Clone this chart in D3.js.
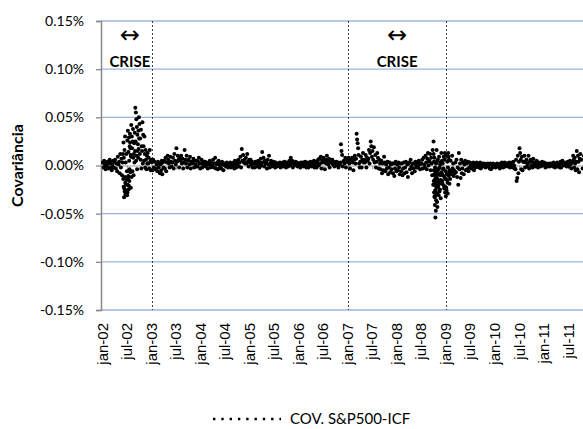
<!DOCTYPE html>
<html>
<head>
<meta charset="utf-8">
<style type="text/css">
    body { margin: 0; background: #fff; }
    .ytick text { font-family: Lato, "Open Sans", sans-serif; font-size: 14px; fill: #000; }
    .xlabel { font-family: "Liberation Sans", Arial, sans-serif; font-size: 15px; fill: #000; }
    .title { font-family: Lato, "Open Sans", sans-serif; font-weight: bold; fill: #000; }
</style>
</head>
<body>
<div id="chart"></div>
<script src="https://cdn.jsdelivr.net/npm/d3@7/dist/d3.min.js"></script>
<script>
// daily covariance S&P500 x ICF, in units of 0.01% (6.0 = 0.06%)
// one inner array per month, values in date order
var cov2002 = [
    [0.3,-0.2,0.5,0.1,-0.4,0.2],
    [-0.1,0.4,-0.3,0.2,0.6,-0.2],
    [0.3,-0.5,0.1,0.5,-0.2,0.4],
    [0.6,-0.3,0.2,-0.6,0.9,0.1],
    [0.4,-0.8,1.2,-0.2,0.7,-1.0,0.3],
    [1.2,-1.4,2.4,-2.2,0.8,-3.3,-2.4,1.6,-2.7,-1.2,3.0,-1.8,-3.0,0.3,-2.9,-2.0,1.2,-1.5,-2.6,-0.6],
    [-3.1,2.6,-2.8,-2.0,3.6,-1.3,-1.1,1.4,-2.5,-2.1,2.9,0.5,-1.6,-0.4,2.0,3.3,2.4,-0.7,1.8,1.1,-2.3,0.9],
    [4.2,-1.2,3.0,1.8,-0.6,2.5,3.8,0.8,-1.0,1.2,2.3,0.3,3.4,1.5],
    [6.0,2.5,5.5,0.5,4.8,1.0,4.0,-0.4,3.2,1.5,2.2,0.8,3.6,1.7,5.0,2.8],
    [4.3,1.2,2.8,0.6,3.7,-0.3,2.0,1.5,4.5,0.2,3.2],
    [2.0,0.5,3.0,1.2,-0.2,1.6,0.6,-0.4,1.0,0.2],
    [1.3,0.2,0.8,-0.3,1.6,0.4,-0.5,0.6]
];
var cov2003 = [
    [0.3,-0.5,0.6,-0.2,0.4,-0.3],
    [-0.4,0.1,-0.6,0.4,-0.2,0.2],
    [-0.8,0.1,-0.5,0.5,-0.9,0.3,-0.2],
    [0.5,-0.3,0.8,-0.6,0.3,1.0],
    [0.6,0.2,-0.2,0.9,0.4,-0.1],
    [0.3,0.8,-0.3,1.2,0.5,0.1],
    [1.8,0.4,1.0,0.6,-0.2,0.8],
    [0.5,1.0,0.2,0.7,-0.3,0.3],
    [1.6,0.6,0.2,1.0,-0.2,0.5],
    [0.6,0.1,0.9,-0.3,0.4,0.2],
    [0.3,0.7,-0.2,0.5,0.1,-0.1],
    [0.5,-0.1,0.4,0.8,0.2,-0.3]
];
var cov2004 = [
    [0.2,0.6,-0.2,0.3,0.1,0.4],
    [0.4,-0.1,0.3,0.1,-0.3,0.2],
    [0.1,0.5,-0.2,0.3,0.0,-0.1],
    [0.6,-0.2,0.2,0.8,-0.3,0.1],
    [0.3,-0.4,0.5,0.1,-0.2,0.2],
    [-0.3,0.4,0.1,-0.5,0.2,0.0],
    [0.2,-0.1,0.3,0.0,-0.2,0.1],
    [0.1,0.3,-0.2,0.2,0.0,-0.1],
    [0.3,-0.3,0.5,0.1,-0.2,0.4],
    [0.2,0.6,-0.1,0.3,0.9,-0.2],
    [1.7,0.5,1.1,0.3,0.6,0.2],
    [0.8,0.2,1.2,0.4,-0.1,0.6]
];
var cov2005 = [
    [0.3,0.6,0.1,0.4,-0.2,0.2],
    [0.2,-0.2,0.4,0.1,-0.1,0.3],
    [0.5,0.1,-0.2,0.3,0.7,0.0],
    [1.4,0.3,0.8,-0.1,0.5,0.2],
    [0.4,-0.3,0.6,0.1,1.0,-0.2],
    [0.2,0.5,-0.1,0.3,0.0,0.4],
    [0.1,-0.2,0.3,0.2,-0.1,0.1],
    [0.2,0.0,0.3,-0.2,0.1,0.2],
    [0.3,-0.1,0.2,0.4,0.0,-0.2],
    [0.1,0.3,-0.1,0.2,0.5,0.0],
    [0.8,0.2,0.5,-0.2,0.3,0.1],
    [0.2,0.4,0.0,0.3,-0.1,0.2]
];
var cov2006 = [
    [0.1,0.2,-0.2,0.3,0.0,0.1],
    [0.3,-0.1,0.2,0.4,0.0,-0.2],
    [0.1,0.3,-0.2,0.2,0.0,0.4],
    [0.2,-0.1,0.3,0.1,0.5,-0.2],
    [0.4,0.1,-0.2,0.3,0.6,0.0],
    [0.7,0.2,0.9,-0.3,0.5,0.3],
    [0.8,0.4,-0.4,0.6,0.2,1.0],
    [0.5,0.1,0.7,-0.2,0.3,0.6],
    [0.3,0.6,0.1,0.4,-0.1,0.2],
    [0.2,0.4,0.0,0.3,-0.2,0.1],
    [0.1,0.3,2.2,1.5,1.1,-0.1,0.4],
    [0.5,0.2,0.8,-0.2,0.4,0.6]
];
var cov2007 = [
    [0.5,0.8,0.2,-0.3,0.6,0.4],
    [0.8,0.3,-0.5,0.6,1.0,0.2],
    [0.7,3.3,2.7,2.3,1.8,1.1,0.2,-0.2],
    [0.4,0.9,-0.2,0.6,1.3,0.3],
    [0.6,0.3,1.1,-0.2,0.8,0.5],
    [0.7,1.6,0.2,1.3,2.5,2.0,0.9],
    [1.5,0.6,1.9,0.3,1.1,-0.2],
    [0.4,1.3,0.8,-0.3,0.6,0.2],
    [-0.4,0.5,-0.8,0.2,-0.5,0.9],
    [0.3,-0.6,0.1,-0.3,0.4,-0.9],
    [-0.2,0.3,-0.7,0.1,-0.4,0.2],
    [-0.8,0.2,-1.1,-0.3,0.4,-0.6]
];
var cov2008 = [
    [0.1,-0.5,0.3,-0.2,-0.9,0.2],
    [-0.6,0.2,-1.0,-0.3,0.3,-0.8],
    [-0.2,0.4,-0.7,0.1,-1.2,0.2],
    [0.3,-0.4,0.6,-0.1,-0.8,0.2],
    [-0.3,0.2,-0.6,0.4,0.0,-0.2],
    [0.3,-0.2,0.5,0.1,-0.4,0.2],
    [0.2,0.6,-0.3,0.8,0.1,-0.2],
    [1.0,0.3,-0.4,0.7,1.3,0.0,0.5],
    [0.4,1.2,-0.5,0.8,0.2,-1.0,1.6,-2.0],
    [2.5,1.2,-1.6,-0.5,0.4,-2.8,-2.0,-1.0,-0.9,0.8,-3.2,-3.3,-1.5,-4.1,-2.0,-0.2,-2.6,-1.4,-5.4,-0.8,-2.6,
     -1.8,-4.7,-0.3,0.2,-3.6,-3.0,-2.3,-1.2,-1.1,1.6,-2.9,-2.2,-0.6,-3.8,0.5,-1.7,-4.3,-0.4],
    [-1.4,0.6,-2.2,-2.0,-0.4,-3.1,-0.9,0.9,-1.7,-2.7,-0.2,-2.5,0.1,0.3,-1.0,-3.4,-1.5,-0.7,1.3,-1.9],
    [-0.8,0.5,-1.6,-1.9,0.2,-1.0,-0.4,-0.3,0.9,-2.1,-2.4,-1.2,0.6,1.3,-2.8,-1.4,-0.6]
];
var cov2009 = [
    [-3.2,1.0,-2.3,-2.6,-0.9,-1.5,0.4,-1.8,-2.9,-0.2,1.3,0.9,-1.1,0.6,-0.7,-1.9,-0.5],
    [-1.4,0.5,-0.9,-0.6,1.0,-0.3,0.2,-1.1],
    [-0.5,-0.8,0.3,-0.7,0.6,-1.2,-0.2],
    [-2.0,1.3,-0.4,0.2,-1.3,0.6,-0.8],
    [-0.3,0.3,-0.9,0.1,0.5,-0.5],
    [0.2,-0.4,0.4,-0.6,-0.2,0.3],
    [0.1,-0.3,0.2,-0.1,0.3,-0.5],
    [0.2,-0.2,0.1,0.3,-0.1,0.0],
    [-0.2,0.1,0.3,-0.3,0.0,0.2],
    [0.1,-0.1,0.2,0.0,-0.2,0.1],
    [0.0,0.2,-0.1,0.1,-0.3,0.2],
    [-0.4,0.1,-0.2,0.2,0.0,-0.1]
];
var cov2010 = [
    [0.1,-0.2,0.0,0.2,-0.1,0.1],
    [0.1,-0.3,0.2,-0.1,0.3,0.0],
    [-0.2,0.1,0.3,-0.1,0.0,0.2],
    [0.2,-0.1,0.1,0.3,-0.2,0.0],
    [0.1,0.3,-0.2,0.4,0.0,-0.3],
    [-0.4,0.6,-1.6,-1.3,1.0,-0.8,0.4],
    [1.8,1.3,0.6,-0.4,0.9,-0.5,0.4],
    [0.4,1.0,-0.2,0.3,0.6,-0.1],
    [0.2,1.0,-0.3,0.4,0.6,0.0],
    [0.4,-0.2,0.7,0.1,0.3,-0.1],
    [0.2,0.5,0.0,-0.2,0.3,0.1],
    [0.1,-0.1,0.2,0.4,0.0,0.2]
];
var cov2011 = [
    [0.3,0.0,-0.2,0.2,0.1,-0.1],
    [0.1,0.2,-0.1,0.0,0.2,0.1],
    [0.2,-0.1,0.3,0.0,-0.2,0.1],
    [0.1,0.3,-0.1,0.2,0.0,-0.2],
    [0.4,-0.2,0.2,0.5,0.0,0.1],
    [0.2,0.0,0.3,-0.1,0.2,0.4],
    [-0.1,0.2,0.5,0.1,-0.3,0.3],
    [0.3,1.0,0.6,-0.2,0.8,0.2,-0.5,0.4],
    [1.5,-0.4,1.0,0.4,-0.7,0.7,1.2],
    [0.6,-0.3,1.0]
];
var years = [cov2002, cov2003, cov2004, cov2005, cov2006, cov2007, cov2008, cov2009, cov2010, cov2011];

var yTicks = [-15, -10, -5, 0, 5, 10, 15];
var xLabels = ['jan-02','jul-02','jan-03','jul-03','jan-04','jul-04','jan-05','jul-05','jan-06','jul-06',
               'jan-07','jul-07','jan-08','jul-08','jan-09','jul-09','jan-10','jul-10','jan-11','jul-11'];
var crisisLines = [12, 60, 84];          // months since jan-02
var crisisLabels = [6.7, 72.1];          // centre of "CRISE" notes, months since jan-02
var legendLabel = 'COV. S&P500-ICF';

(function () {
    var width = 583, height = 429;
    var left = 101, right = 583, top = 21, bottom = 310;

    // flatten monthly arrays into points (month index + position inside month)
    var points = [];
    years.forEach(function (months, yi) {
        months.forEach(function (vals, mi) {
            vals.forEach(function (v, k) {
                points.push({ t: yi * 12 + mi + (k + 0.5) / vals.length, v: v });
            });
        });
    });

    var x = d3.scaleLinear().domain([-0.37, 117.6]).range([left, right]);
    var y = d3.scaleLinear().domain([-15, 15]).range([bottom, top]);

    var svg = d3.select('#chart').append('svg')
        .attr('width', width)
        .attr('height', height);

    svg.append('defs').append('clipPath').attr('id', 'plot')
        .append('rect').attr('x', left).attr('y', top - 5)
        .attr('width', right - left).attr('height', bottom - top + 10);

    // gridlines
    svg.append('g').selectAll('line')
        .data(yTicks.filter(function (d) { return d !== 0; }))
        .enter().append('line')
        .attr('x1', left).attr('x2', right)
        .attr('y1', function (d) { return y(d); })
        .attr('y2', function (d) { return y(d); })
        .attr('stroke', '#9bb4df')
        .attr('stroke-width', 1.3);

    // crisis separators
    svg.append('g').selectAll('line')
        .data(crisisLines)
        .enter().append('line')
        .attr('x1', function (d) { return Math.round(x(d)) + 0.5; })
        .attr('x2', function (d) { return Math.round(x(d)) + 0.5; })
        .attr('y1', top).attr('y2', bottom)
        .attr('stroke', '#404040')
        .attr('stroke-width', 1)
        .attr('stroke-dasharray', '2,2');

    // y axis
    var yAxis = svg.append('g')
        .attr('class', 'ytick')
        .attr('transform', 'translate(' + left + ',0)')
        .call(d3.axisLeft(y).tickValues(yTicks).tickSize(5).tickPadding(12)
            .tickFormat(function (d) { return (d / 100).toFixed(2) + '%'; }));
    yAxis.select('.domain').attr('stroke', '#888').attr('stroke-width', 1.5);
    yAxis.selectAll('.tick line').attr('stroke', '#888').attr('stroke-width', 1.3);

    // x axis crossing at zero, labels placed low
    var tickMonths = xLabels.map(function (d, i) { return i * 6; });
    var xAxis = svg.append('g')
        .attr('transform', 'translate(0,' + y(0) + ')')
        .call(d3.axisBottom(x).tickValues(tickMonths).tickSize(4).tickFormat(''));
    xAxis.select('.domain').attr('stroke', '#999').attr('stroke-width', 1.2);
    xAxis.selectAll('.tick line').attr('stroke', '#999');

    svg.append('g').selectAll('text')
        .data(xLabels)
        .enter().append('text')
        .attr('class', 'xlabel')
        .attr('transform', function (d, i) {
            return 'translate(' + x(tickMonths[i]) + ',323) rotate(-90)';
        })
        .attr('dy', '0.35em')
        .attr('text-anchor', 'end')
        .text(function (d) { return d; });

    // dots
    svg.append('g').attr('clip-path', 'url(#plot)').selectAll('circle')
        .data(points)
        .enter().append('circle')
        .attr('cx', function (d) { return x(d.t); })
        .attr('cy', function (d) { return y(d.v); })
        .attr('r', 2)
        .attr('fill', '#000');

    // crisis notes
    crisisLabels.forEach(function (m) {
        svg.append('text')
            .attr('x', x(m)).attr('y', 43)
            .attr('text-anchor', 'middle')
            .style('font-family', '"DejaVu Sans", sans-serif')
            .style('font-size', '24px')
            .text('\u2194');
        svg.append('text')
            .attr('class', 'title')
            .attr('x', x(m)).attr('y', 66.5)
            .attr('text-anchor', 'middle')
            .style('font-size', '15px')
            .text('CRISE');
    });

    // axis title
    svg.append('text')
        .attr('class', 'title')
        .attr('transform', 'translate(23,' + y(0) + ') rotate(-90)')
        .attr('text-anchor', 'middle')
        .style('font-size', '16px')
        .text('Covariância');

    // legend
    svg.append('line')
        .attr('x1', 213).attr('x2', 281)
        .attr('y1', 419).attr('y2', 419)
        .attr('stroke', '#000')
        .attr('stroke-width', 2.4)
        .attr('stroke-dasharray', '2.4,5.9');
    svg.append('text')
        .attr('x', 290).attr('y', 424)
        .style('font-family', 'Lato, "Open Sans", sans-serif')
        .style('font-size', '15px')
        .text(legendLabel);
})();
</script>
</body>
</html>
